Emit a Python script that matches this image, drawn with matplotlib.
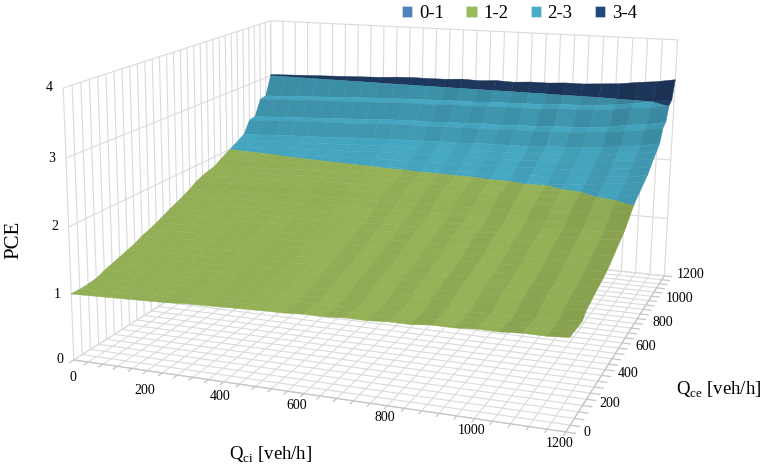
import numpy as np
import matplotlib
matplotlib.use("Agg")
from matplotlib import pyplot as plt
from matplotlib.patches import Patch
from mpl_toolkits.mplot3d import proj3d
from mpl_toolkits.mplot3d.art3d import Line3DCollection, Poly3DCollection

plt.rcParams["font.family"] = ["Liberation Serif", "DejaVu Serif"]
plt.rcParams["mathtext.fontset"] = "custom"
plt.rcParams["mathtext.rm"] = "Liberation Serif"

# surface values, one row per Qce, one column per Qci
qci_values = np.arange(0, 1201, 50)
qce_values = np.arange(0, 1201, 40)
pce_read = np.array([
    [1.00, 1.01, 1.02, 1.03, 1.04, 1.05, 1.07, 1.08, 1.09, 1.10, 1.11, 1.11, 1.14, 1.13, 1.16, 1.15, 1.18, 1.17, 1.21, 1.19, 1.24, 1.21, 1.26, 1.24, 1.27],
    [1.00, 1.01, 1.02, 1.03, 1.05, 1.05, 1.07, 1.08, 1.09, 1.10, 1.11, 1.12, 1.14, 1.13, 1.16, 1.15, 1.18, 1.17, 1.21, 1.19, 1.24, 1.21, 1.26, 1.24, 1.27],
    [1.01, 1.02, 1.03, 1.04, 1.05, 1.06, 1.07, 1.08, 1.09, 1.10, 1.11, 1.11, 1.14, 1.13, 1.16, 1.15, 1.18, 1.17, 1.20, 1.18, 1.23, 1.20, 1.25, 1.23, 1.26],
    [1.03, 1.04, 1.05, 1.06, 1.07, 1.08, 1.09, 1.09, 1.10, 1.11, 1.12, 1.12, 1.15, 1.14, 1.17, 1.16, 1.19, 1.18, 1.21, 1.18, 1.23, 1.20, 1.25, 1.23, 1.26],
    [1.08, 1.09, 1.10, 1.11, 1.12, 1.13, 1.14, 1.15, 1.16, 1.17, 1.18, 1.18, 1.21, 1.20, 1.23, 1.22, 1.25, 1.24, 1.27, 1.25, 1.30, 1.27, 1.32, 1.30, 1.34],
    [1.12, 1.13, 1.14, 1.15, 1.16, 1.17, 1.18, 1.19, 1.20, 1.21, 1.22, 1.22, 1.25, 1.24, 1.27, 1.26, 1.29, 1.28, 1.31, 1.29, 1.34, 1.31, 1.36, 1.34, 1.37],
    [1.16, 1.17, 1.18, 1.19, 1.20, 1.21, 1.22, 1.23, 1.24, 1.25, 1.26, 1.26, 1.29, 1.28, 1.31, 1.30, 1.33, 1.32, 1.35, 1.33, 1.38, 1.35, 1.40, 1.38, 1.41],
    [1.20, 1.21, 1.22, 1.23, 1.24, 1.25, 1.26, 1.27, 1.28, 1.29, 1.30, 1.30, 1.32, 1.31, 1.34, 1.33, 1.36, 1.35, 1.38, 1.36, 1.40, 1.37, 1.42, 1.40, 1.44],
    [1.24, 1.25, 1.26, 1.27, 1.28, 1.29, 1.30, 1.30, 1.31, 1.32, 1.33, 1.33, 1.36, 1.35, 1.38, 1.37, 1.40, 1.39, 1.42, 1.39, 1.44, 1.41, 1.46, 1.44, 1.47],
    [1.30, 1.31, 1.32, 1.33, 1.33, 1.34, 1.35, 1.36, 1.37, 1.38, 1.38, 1.38, 1.41, 1.40, 1.43, 1.42, 1.44, 1.43, 1.46, 1.44, 1.49, 1.46, 1.50, 1.48, 1.51],
    [1.34, 1.35, 1.36, 1.37, 1.37, 1.38, 1.39, 1.40, 1.41, 1.42, 1.42, 1.42, 1.45, 1.44, 1.47, 1.46, 1.48, 1.47, 1.50, 1.48, 1.53, 1.50, 1.54, 1.52, 1.55],
    [1.39, 1.40, 1.41, 1.42, 1.42, 1.43, 1.44, 1.45, 1.46, 1.47, 1.48, 1.48, 1.50, 1.49, 1.52, 1.51, 1.53, 1.52, 1.56, 1.54, 1.59, 1.56, 1.60, 1.58, 1.61],
    [1.44, 1.45, 1.46, 1.47, 1.48, 1.49, 1.50, 1.50, 1.51, 1.52, 1.53, 1.53, 1.56, 1.55, 1.58, 1.57, 1.60, 1.59, 1.62, 1.59, 1.64, 1.61, 1.66, 1.64, 1.67],
    [1.50, 1.51, 1.52, 1.52, 1.53, 1.54, 1.55, 1.55, 1.56, 1.57, 1.58, 1.57, 1.60, 1.59, 1.61, 1.60, 1.63, 1.61, 1.64, 1.62, 1.67, 1.64, 1.70, 1.68, 1.72],
    [1.55, 1.56, 1.57, 1.57, 1.58, 1.59, 1.59, 1.60, 1.61, 1.62, 1.62, 1.62, 1.64, 1.62, 1.65, 1.63, 1.66, 1.64, 1.67, 1.65, 1.70, 1.68, 1.74, 1.73, 1.78],
    [1.60, 1.61, 1.62, 1.63, 1.64, 1.64, 1.65, 1.66, 1.67, 1.68, 1.68, 1.68, 1.70, 1.69, 1.71, 1.70, 1.72, 1.71, 1.74, 1.71, 1.76, 1.75, 1.81, 1.81, 1.86],
    [1.66, 1.67, 1.68, 1.69, 1.70, 1.71, 1.72, 1.72, 1.74, 1.74, 1.75, 1.75, 1.77, 1.76, 1.78, 1.77, 1.79, 1.78, 1.81, 1.79, 1.84, 1.83, 1.89, 1.89, 1.95],
    [1.73, 1.74, 1.75, 1.76, 1.77, 1.78, 1.79, 1.80, 1.81, 1.82, 1.82, 1.82, 1.84, 1.83, 1.86, 1.84, 1.87, 1.86, 1.89, 1.86, 1.92, 1.90, 1.97, 1.97, 2.03],
    [1.78, 1.79, 1.80, 1.81, 1.82, 1.83, 1.84, 1.85, 1.86, 1.87, 1.87, 1.87, 1.89, 1.88, 1.91, 1.89, 1.92, 1.91, 1.94, 1.91, 1.97, 1.95, 2.02, 2.02, 2.08],
    [1.81, 1.82, 1.83, 1.84, 1.85, 1.86, 1.87, 1.88, 1.89, 1.90, 1.91, 1.91, 1.93, 1.92, 1.94, 1.93, 1.96, 1.95, 1.98, 1.95, 2.01, 1.99, 2.07, 2.07, 2.13],
    [1.84, 1.85, 1.86, 1.87, 1.89, 1.90, 1.91, 1.92, 1.93, 1.94, 1.95, 1.94, 1.97, 1.96, 1.98, 1.97, 2.00, 1.99, 2.02, 1.99, 2.05, 2.04, 2.11, 2.12, 2.18],
    [1.91, 1.92, 1.93, 1.94, 1.95, 1.96, 1.97, 1.98, 1.99, 2.00, 2.01, 2.01, 2.03, 2.02, 2.04, 2.03, 2.06, 2.05, 2.08, 2.05, 2.11, 2.09, 2.17, 2.17, 2.23],
    [1.97, 1.98, 1.99, 2.00, 2.02, 2.03, 2.04, 2.05, 2.06, 2.07, 2.08, 2.07, 2.10, 2.09, 2.11, 2.10, 2.13, 2.12, 2.15, 2.12, 2.18, 2.17, 2.24, 2.25, 2.31],
    [2.03, 2.04, 2.05, 2.07, 2.08, 2.09, 2.10, 2.11, 2.12, 2.14, 2.14, 2.14, 2.17, 2.15, 2.18, 2.17, 2.19, 2.18, 2.22, 2.20, 2.25, 2.24, 2.32, 2.32, 2.39],
    [2.09, 2.10, 2.11, 2.13, 2.14, 2.15, 2.16, 2.17, 2.18, 2.20, 2.20, 2.20, 2.23, 2.21, 2.24, 2.23, 2.25, 2.24, 2.28, 2.26, 2.31, 2.30, 2.38, 2.38, 2.45],
    [2.15, 2.16, 2.18, 2.19, 2.20, 2.21, 2.22, 2.24, 2.25, 2.26, 2.27, 2.27, 2.29, 2.28, 2.31, 2.30, 2.32, 2.31, 2.35, 2.33, 2.38, 2.37, 2.45, 2.46, 2.53],
    [2.36, 2.37, 2.39, 2.40, 2.41, 2.42, 2.43, 2.44, 2.46, 2.47, 2.48, 2.47, 2.50, 2.49, 2.51, 2.50, 2.53, 2.52, 2.55, 2.53, 2.59, 2.58, 2.65, 2.66, 2.73],
    [2.38, 2.39, 2.41, 2.42, 2.43, 2.45, 2.46, 2.47, 2.49, 2.50, 2.51, 2.50, 2.53, 2.52, 2.55, 2.53, 2.56, 2.55, 2.59, 2.57, 2.62, 2.62, 2.70, 2.71, 2.78],
    [2.65, 2.66, 2.67, 2.69, 2.70, 2.71, 2.72, 2.73, 2.74, 2.76, 2.76, 2.76, 2.79, 2.77, 2.80, 2.79, 2.81, 2.80, 2.84, 2.82, 2.87, 2.86, 2.94, 2.94, 3.01],
    [2.67, 2.68, 2.70, 2.71, 2.72, 2.73, 2.75, 2.76, 2.77, 2.78, 2.79, 2.79, 2.81, 2.80, 2.83, 2.82, 2.84, 2.83, 2.87, 2.85, 2.90, 2.90, 2.97, 2.99, 3.06],
    [3.02, 3.03, 3.04, 3.05, 3.06, 3.07, 3.08, 3.09, 3.11, 3.12, 3.12, 3.12, 3.15, 3.13, 3.16, 3.14, 3.17, 3.16, 3.19, 3.17, 3.22, 3.21, 3.28, 3.29, 3.35],
])
# second pass over the picture: the ridges along Qci are shallower than first read
qci_column_fix = np.array([0, 0, 0, 0, 0, 0, 0, 0, 0, 0, 0, 0.005, -0.005, 0.005, -0.005, 0.005, -0.005,
                           0.005, -0.005, 0.015, -0.015, 0.015, -0.015, 0.005, -0.005])
pce = pce_read + qci_column_fix

legend_labels = ["0-1", "1-2", "2-3", "3-4"]
legend_colors = ["#4f81bd", "#9bbb59", "#4bacc6", "#1f497d"]
band_colors = ["#4f81bd", "#95b257", "#46a8c3", "#22406b"]

qci_ticks = [0, 200, 400, 600, 800, 1000, 1200]
qce_ticks = [0, 200, 400, 600, 800, 1000, 1200]
pce_ticks = [0, 1, 2, 3, 4]
grid_step = 40

# where the box corners sit in the picture (data point, then pixel)
box_points = [
    ((0, 0, 0), (76, 362)), ((0, 0, 1), (72.5, 295)), ((0, 0, 2), (68.5, 228)),
    ((0, 0, 3), (66, 158)), ((0, 0, 4), (62, 87)), ((1200, 0, 0), (570, 428)),
    ((1200, 1200, 0), (665, 276)), ((1200, 1200, 1), (667, 218)),
    ((1200, 1200, 2), (671, 160)), ((1200, 1200, 4), (677, 41)),
    ((0, 1200, 0), (271, 234)), ((0, 1200, 4), (271, 21)), ((0, 1200, 3), (272, 74)),
    ((600, 0, 0), (298, 392)), ((1200, 600, 0), (621, 346)),
]


def fit_projection(points):
    rows, rhs = [], []
    for (x, y, z), (u, v) in points:
        rows.append([x, y, z, 1, 0, 0, 0, 0, -u * x, -u * y, -u * z])
        rhs.append(u)
        rows.append([0, 0, 0, 0, x, y, z, 1, -v * x, -v * y, -v * z])
        rhs.append(v)
    sol = np.linalg.lstsq(np.array(rows, float), np.array(rhs, float), rcond=None)[0]
    p = np.append(sol, 1).reshape(3, 4)
    # same picture, y counted upward, and a depth row for sorting the facets
    depth = p[2] - np.array([0, 0, 0, 0.5])
    return np.vstack([p[0], 469 * p[2] - p[1], depth, p[2]])


def clip_polygon(poly, level, keep_above):
    out = []
    for i, a in enumerate(poly):
        b = poly[(i + 1) % len(poly)]
        a_in = a[2] >= level if keep_above else a[2] <= level
        b_in = b[2] >= level if keep_above else b[2] <= level
        if a_in:
            out.append(a)
        if a_in != b_in:
            f = (level - a[2]) / (b[2] - a[2])
            out.append(tuple(a[k] + f * (b[k] - a[k]) for k in range(3)))
    return out


def shaded(color, slope_qci, slope_qce):
    factor = 1 - 3.0 * np.clip(slope_qci - 0.005, 0, 0.03) - 0.55 * np.clip(slope_qce - 0.06, 0, 0.25)
    return tuple(c * factor for c in matplotlib.colors.to_rgb(color))


M = fit_projection(box_points)

fig = plt.figure(figsize=(7.65, 4.69), dpi=100)
ax = fig.add_axes([0, -148 / 469, 1, 765 / 469], projection="3d", computed_zorder=False)
ax.set_axis_off()
ax.viewLim.intervalx = (0, 765)
ax.viewLim.intervaly = (-148, 617)
ax.get_proj = lambda: M

# walls and floor
grid = np.arange(0, 1201, grid_step)
thin = []
for g in grid:
    thin.append([(g, 0, 0), (g, 1200, 0)])
    thin.append([(0, g, 0), (1200, g, 0)])
    thin.append([(0, g, 0), (0, g, 4)])
    thin.append([(g, 1200, 0), (g, 1200, 4)])
for z in pce_ticks:
    thin.append([(0, 0, z), (0, 1200, z)])
    thin.append([(0, 1200, z), (1200, 1200, z)])
ax.add_collection3d(Line3DCollection(thin, colors="#dadada", linewidths=0.8, zorder=1))

edges = [[(0, 0, 0), (1200, 0, 0)], [(1200, 0, 0), (1200, 1200, 0)]]
for g in grid:
    edges.append([(g, 0, 0), (g, -22, 0)])
    edges.append([(1200, g, 0), (1222, g, 0)])
ax.add_collection3d(Line3DCollection(edges, colors="#c4c4c4", linewidths=0.9, zorder=1))

# surface, each facet cut at the band limits
column_slope = np.diff(pce, axis=1).mean(axis=0)
polys, colors = [], []
for j in range(len(qce_values) - 1):
    for i in range(len(qci_values) - 1):
        corners = [
            (qci_values[i], qce_values[j], pce[j, i]),
            (qci_values[i + 1], qce_values[j], pce[j, i + 1]),
            (qci_values[i + 1], qce_values[j + 1], pce[j + 1, i + 1]),
            (qci_values[i], qce_values[j + 1], pce[j + 1, i]),
        ]
        slope_qci = (pce[j, i + 1] + pce[j + 1, i + 1] - pce[j, i] - pce[j + 1, i]) / 2
        slope_qci = 0.75 * column_slope[i] + 0.25 * slope_qci
        slope_qce = (pce[j + 1, i] + pce[j + 1, i + 1] - pce[j, i] - pce[j, i + 1]) / 2
        for band, color in enumerate(band_colors):
            part = clip_polygon(corners, band, True)
            if len(part) >= 3:
                part = clip_polygon(part, band + 1, False)
            if len(part) >= 3:
                polys.append(part)
                colors.append(shaded(color, slope_qci, slope_qce))
surface = Poly3DCollection(polys, facecolors=colors, edgecolors=colors, linewidths=0.3, zorder=2)
ax.add_collection3d(surface)

# darker rim along the near edge of the surface
ax.plot(qci_values, np.zeros(len(qci_values)), pce[0], color="#7f9f3f", linewidth=0.8, zorder=3)


def label_at(text, point, offset, **kwargs):
    px, py, _ = proj3d.proj_transform(*point, M)
    ax.annotate(text, xy=(px, py), xytext=(offset[0], -offset[1]), textcoords="offset pixels",
                ha="center", va="center", fontsize=10, zorder=5, **kwargs)


qci_offsets = [(-1, 18), (-2, 20), (-4, 15), (-7, 12), (-2, 12), (-3, 12), (-6, 12)]
qce_offsets = [(21, 1), (23, 4), (23, 4), (24, 4), (26, 4), (28, 2), (26, -1)]
for tick, off in zip(qci_ticks, qci_offsets):
    label_at(str(tick), (tick, 0, 0), off)
for tick, off in zip(qce_ticks, qce_offsets):
    label_at(str(tick), (1200, tick, 0), off)
for tick in pce_ticks:
    label_at(str(tick), (0, 0, tick), (-14, 0))

fig.text(271 / 765, 1 - 455 / 469, r"Q$_{\mathrm{ci}}$ [veh/h]", fontsize=13.5, ha="center", va="center")
fig.text(719 / 765, 1 - 390 / 469, r"Q$_{\mathrm{ce}}$ [veh/h]", fontsize=13.5, ha="center", va="center")
fig.text(14 / 765, 1 - 239.5 / 469, "PCE", fontsize=15, rotation=90, ha="center", va="center")

handles = [Patch(facecolor=c, edgecolor="#d8e2ee", linewidth=0.4) for c in legend_colors]
fig.legend(handles, legend_labels, ncol=4, loc="upper right", bbox_to_anchor=(637 / 765, 1 - 5 / 469),
           frameon=False, fontsize=13.5, borderpad=0, borderaxespad=0, handlelength=0.55, handleheight=0.55,
           handletextpad=0.35, columnspacing=1.2)

fig.savefig("out.png", dpi=100)
